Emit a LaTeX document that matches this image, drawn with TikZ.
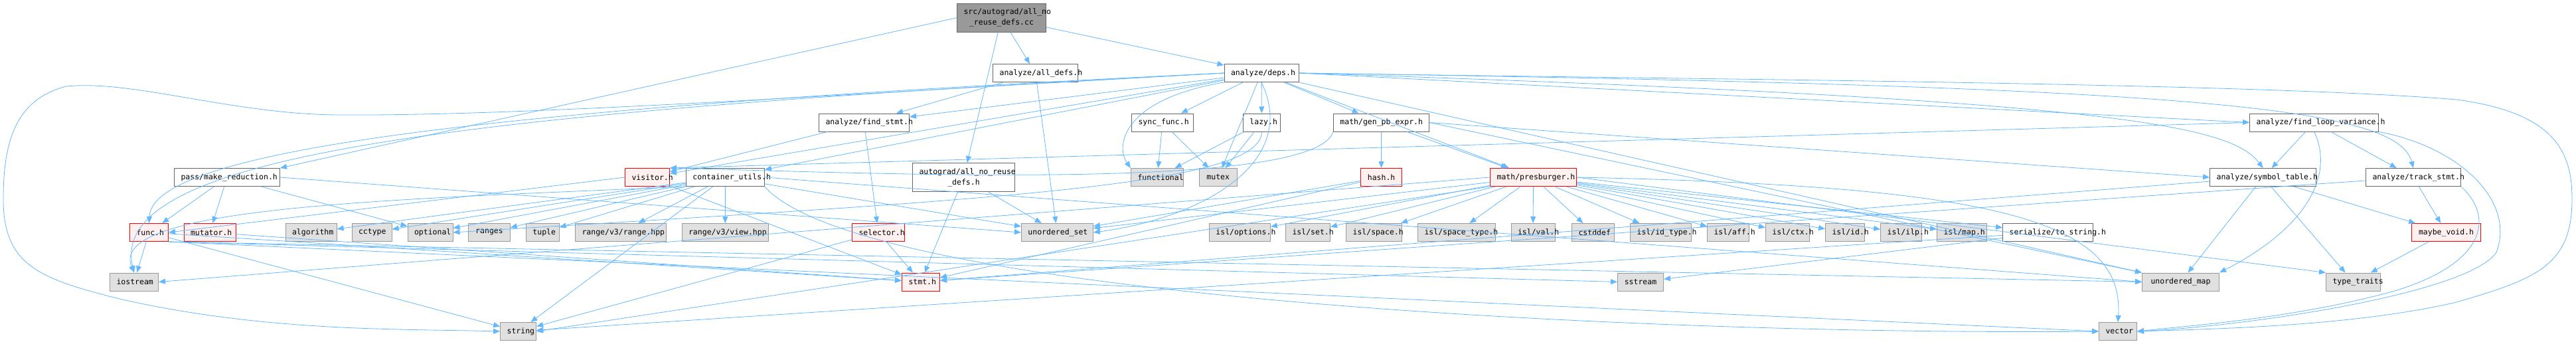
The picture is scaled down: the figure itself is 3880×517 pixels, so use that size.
\documentclass[tikz,border=0pt]{standalone}
\usepackage{fontspec}
\setmonofont{DejaVu Sans Mono}
\usetikzlibrary{arrows.meta}
\definecolor{edgeblue}{RGB}{99,184,255}
\definecolor{extfill}{RGB}{224,224,224}
\definecolor{extline}{RGB}{153,153,153}
\definecolor{docline}{RGB}{102,102,102}
\definecolor{truncfill}{RGB}{255,240,240}
\tikzset{
  hdr/.style={draw, line width=1pt, minimum height=27pt, inner xsep=10pt, inner ysep=2pt, align=center, font=\ttfamily\fontsize{11.5}{16}\selectfont},
  doc/.style={hdr, draw=docline, fill=white},
  trunc/.style={hdr, draw=red, fill=truncfill},
  ext/.style={hdr, draw=extline, fill=extfill},
  rootbox/.style={hdr, draw=docline, fill=extline, minimum height=43pt},
  dep/.style={draw=edgeblue, line width=0.8pt, -{Triangle[length=10pt,width=8pt]}}
}
\begin{document}
\begin{tikzpicture}[x=1pt, y=-1pt]
\useasboundingbox (0,0) rectangle (3880,517);
% row 1 and 2
\node[rootbox, text width=114pt] (root) at (1508.5,26.7) {src/autograd/all\_no\\\_reuse\_defs.cc};
\node[doc, text width=108pt] (alldefs) at (1559.6,110) {analyze/all\_defs.h};
\node[doc, text width=92pt] (deps) at (1900,110) {analyze/deps.h};
% row 3
\node[doc, text width=116pt] (findstmt) at (1301.5,184.5) {analyze/find\_stmt.h};
\node[doc, text width=73pt] (syncfunc) at (1751,184.5) {sync\_func.h};
\node[doc, text width=36pt] (lazy) at (1900.4,184.5) {lazy.h};
\node[doc, text width=124pt] (genpb) at (2080.4,184.5) {math/gen\_pb\_expr.h};
\node[doc, text width=174pt] (findloop) at (3485.6,184.5) {analyze/find\_loop\_variance.h};
% row 4
\node[doc, text width=139pt] (makered) at (342,267) {pass/make\_reduction.h};
\node[trunc, text width=47pt] (visitor) at (975,267) {visitor.h};
\node[doc, text width=98pt] (contutils) at (1092.4,267) {container\_utils.h};
\node[doc, text width=134pt, minimum height=43pt] (autogradh) at (1451.5,267) {autograd/all\_no\_reuse\\\_defs.h};
\node[ext, text width=59pt] (functional) at (1743,267) {functional};
\node[ext, text width=37pt] (mutex) at (1834.7,267) {mutex};
\node[trunc, text width=42pt] (hash) at (2080.6,267) {hash.h};
\node[trunc, text width=110pt] (presb) at (2309.6,267) {math/presburger.h};
\node[doc, text width=140pt] (symtab) at (3408.6,267) {analyze/symbol\_table.h};
\node[doc, text width=123pt] (trackstmt) at (3635,267) {analyze/track\_stmt.h};
% row 5
\node[trunc, text width=38pt] (func) at (224.5,350) {func.h};
\node[trunc, text width=58pt] (mutator) at (316,350) {mutator.h};
\node[ext, text width=57pt] (algorithm) at (468.5,350) {algorithm};
\node[ext, text width=40pt] (cctype) at (560,350) {cctype};
\node[ext, text width=48pt] (optional) at (648,350) {optional};
\node[ext, text width=42.5pt] (ranges) at (737,350) {ranges};
\node[ext, text width=30pt] (tuple) at (817.4,350) {tuple};
\node[ext, text width=117pt] (rangehpp) at (935,350) {range/v3/range.hpp};
\node[ext, text width=110.5pt] (viewhpp) at (1092.3,350) {range/v3/view.hpp};
\node[trunc, text width=59pt] (selector) at (1323,350) {selector.h};
\node[ext, text width=88pt] (unordset) at (1592.4,350) {unordered\_set};
\node[ext, text width=72pt] (isloptions) at (1867.4,350) {isl/options.h};
\node[ext, text width=47pt] (islset) at (1970,350) {isl/set.h};
\node[ext, text width=64pt] (islspace) at (2069.6,350) {isl/space.h};
\node[ext, text width=97pt] (islspacetype) at (2194,350) {isl/space\_type.h};
\node[ext, text width=46pt] (islval) at (2309,350) {isl/val.h};
\node[ext, text width=44pt] (cstddef) at (2399.5,350) {cstddef};
\node[ext, text width=72pt] (islidtype) at (2501.6,350) {isl/id\_type.h};
\node[ext, text width=43pt] (islaff) at (2603,350) {isl/aff.h};
\node[ext, text width=46pt] (islctx) at (2692.4,350) {isl/ctx.h};
\node[ext, text width=39pt] (islid) at (2779,350) {isl/id.h};
\node[ext, text width=42pt] (islilp) at (2863.6,350) {isl/ilp.h};
\node[ext, text width=55pt] (islmap) at (2955,350) {isl/map.h};
\node[doc, text width=116pt] (tostring) at (3084.6,350) {serialize/to\_string.h};
\node[trunc, text width=84.5pt] (maybevoid) at (3684.5,350) {maybe\_void.h};
% row 6 and 7
\node[ext, text width=53pt] (iostream) at (202,424.5) {iostream};
\node[trunc, text width=37pt] (stmt) at (1387,424.5) {stmt.h};
\node[ext, text width=49pt] (sstream) at (2471,424.5) {sstream};
\node[ext, text width=96pt] (unordmap) at (3284.5,424.5) {unordered\_map};
\node[ext, text width=62pt] (typetraits) at (3544.5,424.5) {type\_traits};
\node[ext, text width=34pt] (string) at (780.6,499) {string};
\node[ext, text width=37pt] (vector) at (3190,499) {vector};
% straight includes
\foreach \t in {alldefs,deps,autogradh} \draw[dep] (root) -- (\t);
\draw[dep] (root.west) -- (makered.north east);
\foreach \t in {findstmt,unordset} \draw[dep] (alldefs) -- (\t);
\foreach \t in {unordset,stmt} \draw[dep] (autogradh) -- (\t);
\foreach \t in {func,mutator,optional} \draw[dep] (makered) -- (\t);
\draw[dep] (makered.east) -- (unordset.west);
\foreach \t in {selector,visitor} \draw[dep] (findstmt) -- (\t);
\foreach \t in {findstmt,syncfunc,lazy,genpb,presb,contutils,visitor,mutex} \draw[dep] (deps) -- (\t);
\draw[dep] (deps.east) -- (findloop.west);
\draw[dep] (deps.south east) -- (unordmap.north west);
\foreach \t in {functional,mutex} \draw[dep] (syncfunc) -- (\t);
\foreach \t in {functional,mutex} \draw[dep] (lazy) -- (\t);
\foreach \t in {hash,presb} \draw[dep] (genpb) -- (\t);
\draw[dep] (genpb.east) -- (unordmap.north west);
\draw[dep] (genpb.east) -- (symtab.west);
\foreach \t in {stmt,unordset} \draw[dep] (hash) -- (\t);
\foreach \t in {isloptions,islset,islspace,islspacetype,islval,cstddef,islidtype,islaff,islctx,islid,islilp,islmap,tostring,unordset} \draw[dep] (presb) -- (\t);
\draw[dep] (presb.west) -- (iostream.east);
\draw[dep] (presb.south west) -- (string.east);
\draw[dep] (presb.east) -- (typetraits.north west);
\foreach \t in {algorithm,cctype,optional,ranges,tuple,rangehpp,viewhpp,unordset,string} \draw[dep] (contutils) -- (\t);
\draw[dep] (contutils.east) -- (unordmap.west);
\foreach \t in {iostream,stmt,string} \draw[dep] (func) -- (\t);
\foreach \t in {unordmap,vector,sstream} \draw[dep] (func.south east) -- (\t.west);
\draw[dep] (mutator) -- (stmt);
\draw[dep] (visitor.west) -- (func.east);
\draw[dep] (visitor) -- (stmt);
\foreach \t in {stmt,string} \draw[dep] (selector) -- (\t);
\foreach \t in {sstream,string} \draw[dep] (tostring) -- (\t);
\foreach \t in {maybevoid,typetraits,unordmap,stmt} \draw[dep] (symtab) -- (\t);
\foreach \t in {maybevoid,stmt} \draw[dep] (trackstmt) -- (\t);
\foreach \t in {symtab,trackstmt} \draw[dep] (findloop) -- (\t);
\draw[dep] (findloop.west) -- (visitor.north east);
\draw[dep] (maybevoid) -- (typetraits);
% curved includes
\draw[dep] (deps.west) .. controls (1300,140) and (800,175) .. (509,173) .. controls (350,172) and (200,120) .. (100,130) .. controls (20,150) and (5,220) .. (5,300) .. controls (5,400) and (60,420) .. (180,450) .. controls (400,500) and (600,495) .. (string.west);
\draw[dep] (deps.east) .. controls (2600,120) and (3400,125) .. (3700,150) .. controls (3850,170) and (3874,230) .. (3874,300) .. controls (3874,400) and (3820,420) .. (3700,455) .. controls (3550,490) and (3350,495) .. (vector.east);
\draw[dep] (findloop.south east) .. controls (3700,220) and (3790,300) .. (3760,380) .. controls (3720,440) and (3400,490) .. (vector.east);
\draw[dep] (trackstmt.south east) .. controls (3760,330) and (3740,400) .. (3600,440) .. controls (3450,480) and (3300,490) .. (vector.east);
\draw[dep] (findloop.south) .. controls (3515,260) and (3480,340) .. (unordmap.north east);
\draw[dep] (deps.east) .. controls (3200,150) and (3360,190) .. (symtab.north);
\draw[dep] (deps.east) .. controls (3300,130) and (3610,160) .. (trackstmt.north);
\draw[dep] (deps.south west) .. controls (1690,150) and (1680,220) .. (functional.north west);
\draw[dep] (deps.west) .. controls (800,160) and (230,220) .. (func.north);
\draw[dep] (deps.west) .. controls (700,170) and (160,230) .. (iostream.north);
\draw[dep] (deps.south) .. controls (1960,250) and (1800,330) .. (unordset.east);
\draw[dep] (contutils.south west) .. controls (600,300) and (160,310) .. (iostream.north);
\draw[dep] (contutils.south east) .. controls (1300,450) and (2500,505) .. (vector.west);
\draw[dep] (lazy.south) .. controls (1900,280) and (1500,300) .. (optional.east);
\draw[dep] (genpb.south west) .. controls (1980,290) and (1300,260) .. (visitor.north east);
\draw[dep] (presb.east) .. controls (3000,280) and (3200,330) .. (vector.north);
\end{tikzpicture}
\end{document}
